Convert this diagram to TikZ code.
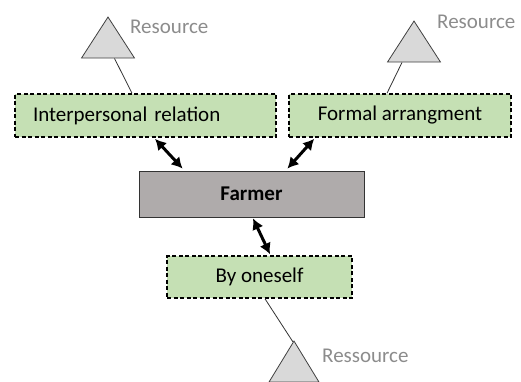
\documentclass[tikz,border=0pt]{standalone}
\usepackage{fontspec}
\setmainfont{Carlito}
\usetikzlibrary{shapes.geometric,arrows.meta,calc}
\definecolor{boxgreen}{HTML}{C5E0B4}
\definecolor{farmergray}{HTML}{AFABAB}
\definecolor{trigray}{HTML}{D9D9D9}
\definecolor{resgray}{HTML}{8C8C8C}
\tikzset{
  way/.style={draw=black, fill=boxgreen, line width=1.6pt, dash pattern=on 4pt off 2.5pt, inner sep=0pt},
  res/.style={isosceles triangle, shape border rotate=90, isosceles triangle stretches, draw=black!75, fill=trigray, line width=0.8pt, inner sep=0pt, anchor=apex},
  restext/.style={text=resgray, anchor=west, inner sep=0pt},
  link/.style={draw=black!80, line width=0.8pt},
  both/.style={line width=3pt, {Latex[length=11pt,width=12pt]}-{Latex[length=11pt,width=12pt]}}
}
\begin{document}
\begin{tikzpicture}[x=1pt, y=-1pt, font=\fontsize{21}{25}\selectfont]
\useasboundingbox (0,0) rectangle (521,381);

\def\tw{53pt};
\def\th{41pt};

% resources
\node[res, minimum width=\tw, minimum height=\th] (t1) at (108,16) {};
\node[res, minimum width=\tw, minimum height=\th] (t2) at (414,20) {};
\node[res, minimum width=50pt, minimum height=\th] (t3) at (294,340) {};

\node[restext] (r1) at (130,27) {Resource};
\node[restext] (r2) at (437,22) {Resource};
\node[restext] (r3) at (322,356) {Ressource};

% ways of access
\node[way, minimum width=261pt, minimum height=43pt, text width=225pt, inner xsep=18pt, align=left] (ir) at (145.5,115.5) {Interpersonal relation};
\node[way, minimum width=222pt, minimum height=43pt] (fa) at (400,115.5) {Formal arrangment};
\node[way, minimum width=185pt, minimum height=42pt] (bo) at (259.5,277) {By oneself};

\node[draw=black!80, fill=farmergray, line width=0.8pt, minimum width=225pt, minimum height=46pt, font=\fontsize{21}{25}\selectfont\bfseries] (f) at (251.5,194) {Farmer};

% links
\draw[link] ($(t1.south)+(6.5,0)$) -- ($(ir.north)+(-13.5,0)$);
\draw[link] ($(t2.south)+(-12,0)$) -- ($(fa.north)+(-13,0)$);
\draw[link] ($(bo.south)+(5.5,0)$) -- ($(t3.apex)+(-1,2)$);

\draw[both] ($(ir.south)+(9.5,1)$) -- ($(f.north west)+(44,-2)$);
\draw[both] ($(fa.south west)+(26,1)$) -- ($(f.north east)+(-77,-2)$);
\draw[both] ($(f.south)+(1.5,1)$) -- ($(bo.north)+(10.5,-1)$);

\end{tikzpicture}
\end{document}
